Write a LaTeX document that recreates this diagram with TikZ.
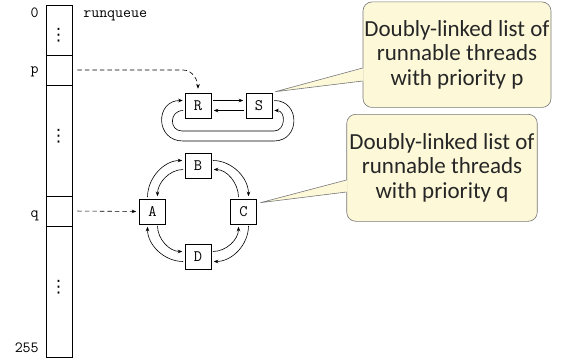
\documentclass[tikz,border=0pt]{standalone}
\usepackage{fontspec}
\newfontfamily\calloutfont{Carlito}
\newfontfamily\symfont{DejaVu Sans}
\usetikzlibrary{arrows.meta}

\definecolor{notefill}{RGB}{252,248,216}
\definecolor{noteline}{RGB}{120,120,120}

\begin{document}
\begin{tikzpicture}[x=1pt,y=1pt,line width=0.6pt,
  lbl/.style={font=\ttfamily\fontsize{15.5}{15.5}\selectfont, inner sep=0},
  cell/.style={draw, minimum width=26pt, minimum height=30pt, inner sep=0},
  dotsnode/.style={inner sep=0, font=\symfont\fontsize{17}{17}\selectfont},
  thr/.style={draw, minimum width=26pt, minimum height=25pt, inner sep=0,
              font=\ttfamily\fontsize{16}{16}\selectfont},
  link/.style={-{Stealth[length=4.5pt,width=3.6pt]}, shorten <=1.5pt, shorten >=2.5pt},
  ptr/.style={-{Stealth[length=4.5pt,width=3.6pt]}, dash pattern=on 4.5pt off 3pt},
  notebox/.style={draw=noteline, fill=notefill, rounded corners=9pt, inner sep=0,
                  align=center, text=black!85, font=\calloutfont\fontsize{23}{24.5}\selectfont},
]
\useasboundingbox (0,0) rectangle (561,362);

% runqueue column
\draw (46,5) rectangle (72,357);
\draw (46,307) -- (72,307);
\node[cell] (p) at (59,292) {};
\node[cell] (q) at (59,151) {};
\node[dotsnode] (d1) at (58.5,327) {⋮};
\node[dotsnode] (d2) at (58.5,226) {⋮};
\node[dotsnode] (d3) at (58.5,75) {⋮};

\node[lbl, anchor=base east] (l0) at (39,344) {0};
\node[lbl, anchor=base east] (lp) at (39,288) {p};
\node[lbl, anchor=base east] (lq) at (39,145) {q};
\node[lbl, anchor=base east] (l255) at (39,10) {255};
\node[lbl, anchor=base west] (rq) at (83,344) {runqueue};

% list with priority p
\node[thr] (R) at (198,256.5) {R};
\node[thr] (S) at (259,256.5) {S};

\coordinate (pbend) at (183,292);
\draw[ptr, shorten <=5pt, shorten >=4pt] (p.east) -- (pbend) to[out=0,in=90] (R.north);

\draw[link] ([yshift=5pt]R.east) -- ([yshift=5pt]S.west);
\draw[link] ([yshift=-5pt]S.west) -- ([yshift=-5pt]R.east);
% outer return loop S -> R
\draw[-{Stealth[length=4.5pt,width=3.6pt]}]
  ([shift={(2pt,5pt)}]S.east) .. controls (300.5,261.5) and (300.5,221) .. (274,221)
  -- (183,221) .. controls (155,221) and (155,261.5) .. ([shift={(-2pt,5pt)}]R.west);
% inner return loop R -> S
\draw[-{Stealth[length=4.5pt,width=3.6pt]}]
  ([shift={(-1.5pt,-5pt)}]R.west) .. controls (169,251.5) and (169,231) .. (182,231)
  -- (274,231) .. controls (286,231) and (286,251.5) .. ([shift={(2pt,-5pt)}]S.east);

% list with priority q
\node[thr] (B) at (198,196.5) {B};
\node[thr] (A) at (152.5,150.5) {A};
\node[thr] (C) at (243.5,150.5) {C};
\node[thr] (D) at (198,105.5) {D};

\draw[ptr, shorten <=5pt, shorten >=3pt] (q.east) -- (A.west);

% clockwise (outer) links
\draw[link] ([xshift=-5pt]A.north) to[out=90,in=180] ([yshift=5pt]B.west);
\draw[link] ([yshift=5pt]B.east) to[out=0,in=90] ([xshift=5pt]C.north);
\draw[link] ([xshift=5pt]C.south) to[out=-90,in=0] ([yshift=-5pt]D.east);
\draw[link] ([yshift=-5pt]D.west) to[out=180,in=-90] ([xshift=-5pt]A.south);
% counter-clockwise (inner) links
\draw[link] ([yshift=-4pt]B.west) to[out=180,in=90] ([xshift=5pt]A.north);
\draw[link] ([xshift=-5pt]C.north) to[out=90,in=0] ([yshift=-4pt]B.east);
\draw[link] ([yshift=5pt]D.east) to[out=0,in=-90] ([xshift=-5pt]C.south);
\draw[link] ([xshift=5pt]A.south) to[out=-90,in=180] ([yshift=5pt]D.west);

% callouts
\node[notebox, minimum width=188pt, minimum height=105.5pt] (n1) at (457,307.3)
  {Doubly-linked list of\\runnable threads\\with priority p};
\coordinate (t1) at ([shift={(3pt,1pt)}]S.north east);
\fill[notefill] ([shift={(1pt,-13.3pt)}]n1.west) -- (t1) -- ([shift={(1pt,-26.3pt)}]n1.west) -- cycle;
\draw[noteline] ([yshift=-13.3pt]n1.west) -- (t1) -- ([yshift=-26.3pt]n1.west);

\node[notebox, minimum width=190.5pt, minimum height=107pt] (n2) at (442,194.2)
  {Doubly-linked list of\\runnable threads\\with priority q};
\coordinate (t2) at ([shift={(3.5pt,-4pt)}]C.north east);
\fill[notefill] ([shift={(1pt,-12.2pt)}]n2.west) -- (t2) -- ([shift={(1pt,-24.2pt)}]n2.west) -- cycle;
\draw[noteline] ([yshift=-12.2pt]n2.west) -- (t2) -- ([yshift=-24.2pt]n2.west);
\end{tikzpicture}
\end{document}
